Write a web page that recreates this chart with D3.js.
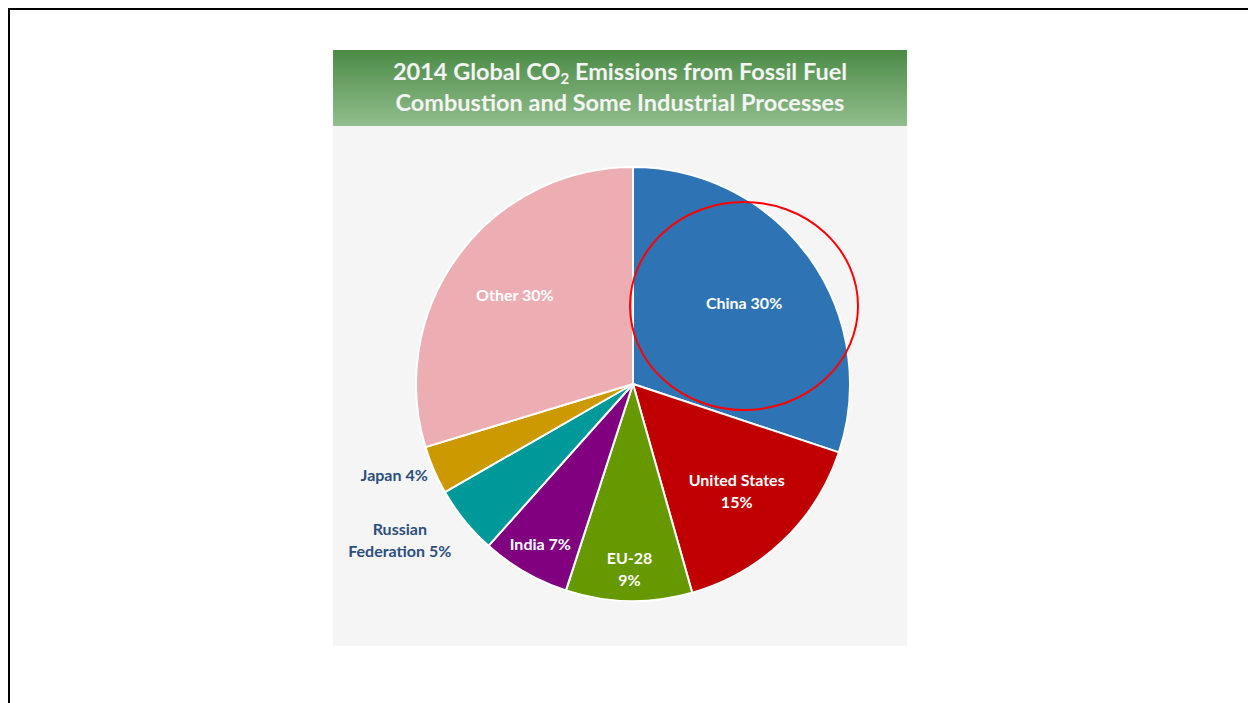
<!DOCTYPE html>
<html>
<head>
<meta charset="utf-8">
<script src="https://cdn.jsdelivr.net/npm/d3@7/dist/d3.min.js"></script>
<style>
  body { margin: 0; background: #fff; }
  svg { display: block; }
</style>
</head>
<body>
<div id="chart"></div>
<script>
// data (shares of global CO2 emissions, 2014)
var countries = ["China", "United States", "EU-28", "India", "Russian Federation", "Japan", "Other"];
var shares = [30.1, 15.5, 9.4, 6.6, 5.1, 3.6, 29.7];
var labelLines = [["China 30%"], ["United States", "15%"], ["EU-28", "9%"], ["India 7%"], ["Russian", "Federation 5%"], ["Japan 4%"], ["Other 30%"]];
var sliceColors = ["#2e74b5", "#c00000", "#669900", "#800080", "#009999", "#cc9900", "#edaeb3"];
var titleLines = ["2014 Global CO", "Combustion and Some Industrial Processes"];

var width = 1249, height = 703;
var svg = d3.select("#chart").append("svg").attr("width", width).attr("height", height);

// slide frame
svg.append("path").attr("d", "M9,703 V9 H1248").attr("fill", "none").attr("stroke", "#000").attr("stroke-width", 2);

// chart panel
var panel = { x: 333, y: 50, w: 574, h: 596 };
svg.append("rect").attr("x", panel.x).attr("y", panel.y).attr("width", panel.w).attr("height", panel.h).attr("fill", "#f5f5f5");

var defs = svg.append("defs");
var grad = defs.append("linearGradient").attr("id", "titleGrad").attr("x1", 0).attr("y1", 0).attr("x2", 0).attr("y2", 1);
grad.append("stop").attr("offset", "0%").attr("stop-color", "#4a8b45");
grad.append("stop").attr("offset", "100%").attr("stop-color", "#92be8d");
svg.append("rect").attr("x", panel.x).attr("y", panel.y).attr("width", panel.w).attr("height", 76).attr("fill", "url(#titleGrad)");

var title = svg.append("text").attr("text-anchor", "middle").attr("fill", "#f4f4f4")
  .style("font-family", "Lato, 'Open Sans', sans-serif").style("font-weight", "bold").style("font-size", "23.5px");
var t1 = title.append("tspan").attr("x", panel.x + panel.w / 2).attr("y", 80);
t1.append("tspan").text(titleLines[0]);
t1.append("tspan").text("2").style("font-size", "15px").attr("dy", 4);
t1.append("tspan").text(" Emissions from Fossil Fuel").attr("dy", -4);
title.append("tspan").attr("x", panel.x + panel.w / 2).attr("y", 111).text(titleLines[1]);

// pie
var cx = 633, cy = 384, R = 217;
var g = svg.append("g").attr("transform", "translate(" + cx + "," + cy + ")");
var pie = d3.pie().sort(null).value(function(d) { return d; });
var arcs = pie(shares);
var arc = d3.arc().innerRadius(0).outerRadius(R);

g.selectAll("path.slice").data(arcs).enter().append("path")
  .attr("class", "slice")
  .attr("d", arc)
  .attr("fill", function(d, i) { return sliceColors[i]; })
  .attr("stroke", "#fff").attr("stroke-width", 2).attr("stroke-linejoin", "round");

// label distance from centre, per slice (small ones sit outside)
var labelR = [137, 150, 186, 186, 281, 256, 147];
var inside = [true, true, true, true, false, false, true];

g.selectAll("text.lbl").data(arcs).enter().append("text")
  .attr("class", "lbl")
  .attr("text-anchor", "middle")
  .style("font-family", "Lato, 'Open Sans', sans-serif").style("font-weight", "bold").style("font-size", "16px")
  .attr("fill", function(d, i) { return inside[i] ? "#ffffff" : "#2c4f7c"; })
  .each(function(d, i) {
    var a = (d.startAngle + d.endAngle) / 2;
    if (i == 4) a = a + 0.09;
    if (i == 5) a = a + 0.04;
    var x = Math.sin(a) * labelR[i], y = -Math.cos(a) * labelR[i];
    var lines = labelLines[i];
    var sel = d3.select(this);
    lines.forEach(function(l, k) {
      sel.append("tspan").attr("x", x).attr("y", y + 5 + (k - (lines.length - 1) / 2) * 22).text(l);
    });
  });

// red highlight ring round China
svg.append("ellipse").attr("cx", 744).attr("cy", 306).attr("rx", 114).attr("ry", 104)
  .attr("fill", "none").attr("stroke", "#ff0000").attr("stroke-width", 2);
</script>
</body>
</html>
